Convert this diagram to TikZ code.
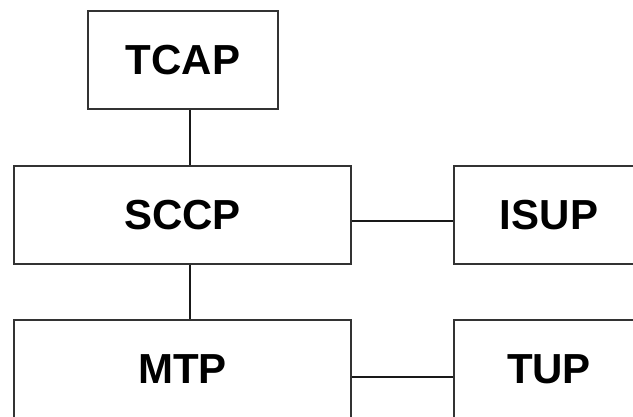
\documentclass[tikz,border=0pt]{standalone}
\usepackage{fontspec}
\setmainfont{Liberation Sans}
\begin{document}
\begin{tikzpicture}[x=1pt,y=-1pt,
  layer/.style={draw=black!80, line width=1.6pt, fill=white, rectangle,
    minimum height=98pt, inner sep=0pt,
    font=\fontsize{42}{46}\selectfont\bfseries},
  link/.style={draw=black!90, line width=1.6pt}]
  \useasboundingbox (0,0) rectangle (633,417);
  \clip (0,0) rectangle (633,417);
  % protocol layers
  \node[layer, minimum width=190pt] (tcap) at (183,60) {TCAP};
  \node[layer, minimum width=337pt] (sccp) at (182.5,215) {SCCP};
  \node[layer, minimum width=190pt] (isup) at (549,215) {ISUP};
  \node[layer, minimum width=337pt] (mtp) at (182.5,369) {MTP};
  \node[layer, minimum width=190pt] (tup) at (549,369) {TUP};
  % interfaces between layers
  \draw[link] ([xshift=7pt]tcap.south) -- ([xshift=7pt]tcap.south |- sccp.north);
  \draw[link] ([xshift=7.5pt]sccp.south) -- ([xshift=7.5pt]mtp.north);
  \draw[link] ([yshift=-6pt]sccp.east) -- ([yshift=-6pt]isup.west);
  \draw[link] ([yshift=-8pt]mtp.east) -- ([yshift=-8pt]tup.west);
\end{tikzpicture}
\end{document}
